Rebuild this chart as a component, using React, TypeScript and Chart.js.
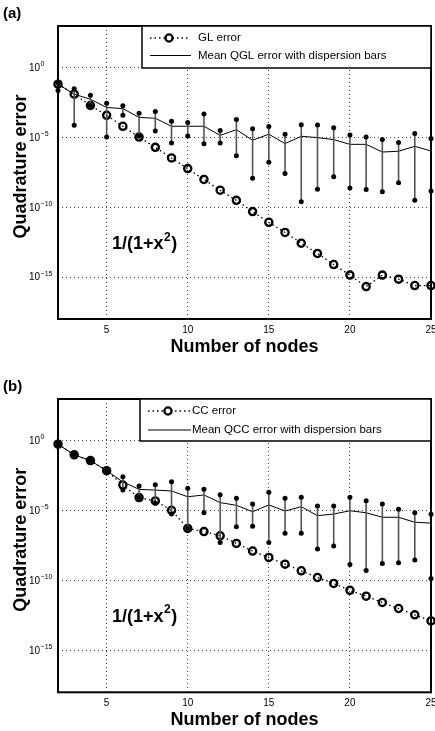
import React, { useEffect, useRef } from "react";
import { Chart, registerables } from "chart.js";
Chart.register(...registerables);

const FONT = "'Liberation Sans', Arial, Helvetica, sans-serif";

const nodes = [2, 3, 4, 5, 6, 7, 8, 9, 10, 11, 12, 13, 14, 15, 16, 17, 18, 19, 20, 21, 22, 23, 24, 25];
const xTicks = [5, 10, 15, 20, 25];
const yTicks = [1e0, 1e-5, 1e-10, 1e-15];
const yMin = 1e-18;
const yMax = 1e3;

// Panel (a): Gauss-Legendre
const glError = [6.8e-2, 1.3e-2, 2.0e-3, 4.0e-4, 6.5e-5, 1.1e-5, 2.0e-6, 3.5e-7, 6.0e-8, 1.0e-8, 1.7e-9, 3.2e-10, 5.0e-11, 8.5e-12, 1.6e-12, 2.7e-13, 5.0e-14, 8.0e-15, 1.4e-15, 2.1e-16, 1.4e-15, 7.2e-16, 2.5e-16, 2.5e-16];
const qglMean = [6.8e-2, 1.3e-2, 5.6e-3, 1.45e-3, 1.2e-3, 2.8e-4, 2.45e-4, 6.5e-5, 6.5e-5, 6.5e-5, 1.45e-5, 3.7e-5, 6.5e-6, 1.75e-5, 3.7e-6, 1.25e-5, 1.0e-5, 7.2e-6, 3.3e-6, 3.3e-6, 9.3e-7, 1.05e-6, 2.4e-6, 1.1e-6];
const qglMax = [8.0e-2, 3.2e-2, 1.1e-2, 2.95e-3, 1.9e-3, 5.5e-4, 7.6e-4, 1.5e-4, 1.2e-4, 4.9e-4, 3.2e-5, 2.0e-4, 4.4e-5, 6.2e-5, 1.75e-5, 8.5e-5, 7.9e-5, 5.1e-5, 1.55e-5, 1.1e-5, 7.2e-6, 4.4e-6, 1.95e-5, 8.5e-6];
const qglMin = [2.4e-2, 7.6e-5, 2.0e-3, 1.1e-5, 4.0e-4, 1.25e-5, 3.0e-5, 4.2e-6, 1.3e-5, 3.7e-6, 4.2e-6, 5.1e-7, 1.2e-8, 1.75e-7, 2.7e-8, 2.5e-10, 2.0e-9, 1.55e-8, 2.4e-9, 1.95e-9, 1.3e-9, 5.8e-9, 3.2e-10, 1.5e-9];

// Panel (b): Clenshaw-Curtis
const ccError = [0.58, 0.1, 3.9e-2, 7.4e-3, 6.9e-4, 8.7e-5, 5.0e-5, 1.07e-5, 5.4e-7, 3.2e-7, 1.6e-7, 4.6e-8, 1.3e-8, 4.5e-9, 1.5e-9, 5.0e-10, 1.66e-10, 6.2e-11, 2.0e-11, 7.6e-12, 2.7e-12, 1.0e-12, 3.5e-13, 1.3e-13];
const qccMean = [0.58, 0.1, 3.9e-2, 7.4e-3, 1.15e-3, 3.4e-4, 3.0e-4, 2.6e-4, 1.0e-4, 1.35e-4, 3.8e-5, 2.45e-5, 8.5e-6, 2.6e-5, 9.5e-6, 1.95e-5, 4.4e-6, 5.8e-6, 1.0e-5, 7.2e-6, 3.4e-6, 3.4e-6, 1.5e-6, 1.3e-6];
const qccMax = [0.58, 0.1, 3.9e-2, 7.4e-3, 2.75e-3, 5.9e-4, 7.4e-4, 1.2e-3, 4.0e-4, 3.4e-4, 1.4e-4, 7.8e-5, 3.0e-5, 2.1e-4, 7.8e-5, 9.1e-5, 2.2e-5, 2.2e-5, 9.1e-5, 5.2e-5, 3.0e-5, 1.26e-5, 7.2e-6, 5.5e-6];
const qccMin = [0.58, 0.1, 3.9e-2, 7.4e-3, 3.0e-4, 8.7e-5, 3.4e-5, 5.8e-6, 5.4e-7, 7.2e-6, 5.4e-8, 7.1e-7, 7.9e-7, 5.4e-8, 2.4e-7, 2.4e-7, 1.8e-8, 3.0e-8, 1.4e-9, 5.2e-10, 1.7e-9, 1.9e-9, 3.0e-9, 1.4e-10];

type PanelProps = {
  label: string;
  errLabel: string;
  meanLabel: string;
  err: number[];
  mean: number[];
  hi: number[];
  lo: number[];
  height: number;
  padTop: number;
  plotBottom: number;
  legendLeft: number;
  legendLine: [number, number];
  legendCircle: number;
  legendText: number;
  legendRows: [number, number];
  labelBase: number;
  insetBase: number;
};

function Panel(p: PanelProps) {
  const ref = useRef<HTMLCanvasElement>(null);
  useEffect(() => {
    const canvas = ref.current!;
    const whisker: any[] = [];
    nodes.forEach((n, i) => {
      whisker.push({ x: n, y: p.lo[i] }, { x: n, y: p.hi[i] }, { x: n, y: null });
    });

    const deco = {
      id: "deco",
      afterDatasetsDraw(chart: any) {
        const { ctx, chartArea: a } = chart;
        ctx.save();
        ctx.setLineDash([]);
        // frame
        ctx.strokeStyle = "#000";
        ctx.lineWidth = 2;
        ctx.strokeRect(a.left, a.top, a.right - a.left, a.bottom - a.top);
        // legend box
        const lt = a.top, lb = a.top + 42, ll = p.legendLeft, lr = a.right;
        ctx.fillStyle = "#fff";
        ctx.fillRect(ll, lt, lr - ll, lb - lt);
        ctx.lineWidth = 1.5;
        ctx.strokeRect(ll, lt, lr - ll, lb - lt);
        const r1 = lt + p.legendRows[0], r2 = lt + p.legendRows[1];
        // row 1 sample
        ctx.strokeStyle = "#000";
        ctx.lineWidth = 1.3;
        ctx.setLineDash([1.5, 3]);
        ctx.beginPath();
        ctx.moveTo(p.legendLine[0], r1);
        ctx.lineTo(p.legendLine[1], r1);
        ctx.stroke();
        ctx.setLineDash([]);
        ctx.lineWidth = 2.3;
        ctx.fillStyle = "#fff";
        ctx.beginPath();
        ctx.arc(p.legendCircle, r1, 3.6, 0, Math.PI * 2);
        ctx.fill();
        ctx.stroke();
        // row 2 sample
        ctx.lineWidth = 1;
        ctx.beginPath();
        ctx.moveTo(p.legendLine[0], r2);
        ctx.lineTo(p.legendLine[1] + 1, r2);
        ctx.stroke();
        ctx.fillStyle = "#000";
        ctx.font = `11.5px ${FONT}`;
        ctx.textAlign = "left";
        ctx.textBaseline = "middle";
        ctx.fillText(p.errLabel, p.legendText, r1);
        ctx.fillText(p.meanLabel, p.legendText, r2);
        // inset function text
        ctx.textBaseline = "alphabetic";
        ctx.font = `bold 18px ${FONT}`;
        const x0 = 112;
        ctx.fillText("1/(1+x", x0, p.insetBase);
        const w1 = ctx.measureText("1/(1+x").width;
        ctx.font = `bold 12px ${FONT}`;
        ctx.fillText("2", x0 + w1 + 0.5, p.insetBase - 8.5);
        const w2 = ctx.measureText("2").width;
        ctx.font = `bold 18px ${FONT}`;
        ctx.fillText(")", x0 + w1 + w2 + 1, p.insetBase);
        ctx.restore();
      },
      afterDraw(chart: any) {
        const { ctx, chartArea: a } = chart;
        const ys = chart.scales.y;
        ctx.save();
        ctx.fillStyle = "#000";
        ctx.textAlign = "left";
        // y tick labels with superscript exponents
        ys.ticks.forEach((t: any) => {
          const py = ys.getPixelForValue(t.value);
          const e = Math.round(Math.log10(t.value));
          ctx.font = `10px ${FONT}`;
          ctx.textBaseline = "middle";
          ctx.fillText("10", 29, py + 0.5);
          const w = ctx.measureText("10").width;
          ctx.font = `7px ${FONT}`;
          ctx.textBaseline = "alphabetic";
          ctx.fillText(e === 0 ? "0" : "\u2212" + String(-e), 29 + w + 0.5, py - 1.5);
        });
        // axis titles
        ctx.font = `bold 18px ${FONT}`;
        ctx.textAlign = "center";
        ctx.textBaseline = "alphabetic";
        ctx.fillText("Number of nodes", (a.left + a.right) / 2, a.bottom + 32.8);
        ctx.save();
        ctx.translate(25.5, (a.top + a.bottom) / 2 - 6);
        ctx.rotate(-Math.PI / 2);
        ctx.fillText("Quadrature error", 0, 0);
        ctx.restore();
        // panel label
        ctx.textAlign = "left";
        ctx.font = `bold 15px ${FONT}`;
        ctx.fillText(p.label, 3, p.labelBase);
        ctx.restore();
      },
    };

    const gridCommon = {
      color: "#444",
      lineWidth: 1,
      drawTicks: false,
    };

    const chart = new Chart(canvas, {
      type: "line",
      data: {
        datasets: [
          {
            label: "bars",
            data: whisker,
            borderColor: "#555",
            borderWidth: 1.6,
            pointRadius: 2.5,
            pointBackgroundColor: "#000",
            pointBorderColor: "#000",
            pointBorderWidth: 0,
            spanGaps: false,
            clip: false,
          } as any,
          {
            label: p.errLabel,
            data: nodes.map((n, i) => ({ x: n, y: p.err[i] })),
            borderColor: "#000",
            borderWidth: 1.3,
            borderDash: [1.5, 3],
            pointRadius: 3.6,
            pointBorderWidth: 2.3,
            pointBackgroundColor: "rgba(255,255,255,0)",
            pointBorderColor: "#000",
            clip: false,
          } as any,
          {
            label: p.meanLabel,
            data: nodes.map((n, i) => ({ x: n, y: p.mean[i] })),
            borderColor: "#000",
            borderWidth: 1,
            pointRadius: 0,
            clip: false,
          } as any,
        ],
      },
      options: {
        animation: false,
        responsive: false,
        events: [],
        layout: { autoPadding: false, padding: { left: 0, right: 4, top: p.padTop, bottom: 0 } },
        plugins: { legend: { display: false }, tooltip: { enabled: false } },
        scales: {
          x: {
            type: "linear",
            min: 2,
            max: 25,
            afterBuildTicks: (s: any) => {
              s.ticks = xTicks.map((v) => ({ value: v }));
            },
            afterFit: (s: any) => {
              s.height = p.height - p.plotBottom;
              s.paddingLeft = 0;
              s.paddingRight = 0;
            },
            ticks: {
              color: "#000",
              font: { family: FONT, size: 10 },
              padding: 5,
              maxRotation: 0,
              autoSkip: false,
            },
            grid: gridCommon,
            border: { display: false, dash: [1, 3] },
          },
          y: {
            type: "logarithmic",
            min: yMin,
            max: yMax,
            afterBuildTicks: (s: any) => {
              s.ticks = yTicks.map((v) => ({ value: v }));
            },
            afterFit: (s: any) => {
              s.width = 58;
              s.paddingTop = 0;
              s.paddingBottom = 0;
            },
            ticks: { display: false },
            grid: gridCommon,
            border: { display: false, dash: [1, 3] },
          },
        },
      } as any,
      plugins: [deco],
    });
    return () => chart.destroy();
  }, []);
  return (
    <canvas
      ref={ref}
      width={435}
      height={p.height}
      style={{ display: "block", width: 435, height: p.height }}
    />
  );
}

export default function App() {
  return (
    <div style={{ position: "absolute", left: 0, top: 0, width: 435, height: 731, background: "#fff" }}>
      <Panel
        label="(a)"
        errLabel="GL error"
        meanLabel="Mean QGL error with dispersion bars"
        err={glError}
        mean={qglMean}
        hi={qglMax}
        lo={qglMin}
        height={366}
        padTop={26}
        plotBottom={319}
        legendLeft={142}
        legendLine={[150, 190]}
        legendCircle={169}
        legendText={198}
        legendRows={[12, 29.5]}
        labelBase={17.5}
        insetBase={249.3}
      />
      <Panel
        label="(b)"
        errLabel="CC error"
        meanLabel="Mean QCC error with dispersion bars"
        err={ccError}
        mean={qccMean}
        hi={qccMax}
        lo={qccMin}
        height={365}
        padTop={33}
        plotBottom={326.3}
        legendLeft={140}
        legendLine={[148, 190]}
        legendCircle={168}
        legendText={192}
        legendRows={[12, 31]}
        labelBase={24.7}
        insetBase={255.7}
      />
    </div>
  );
}
